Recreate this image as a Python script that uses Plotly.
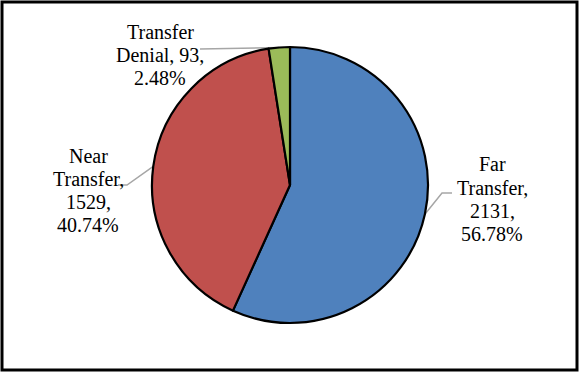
import math
import plotly.graph_objects as go

labels = ["Far Transfer", "Near Transfer", "Transfer Denial"]
values = [2131, 1529, 93]
percents = ["56.78%", "40.74%", "2.48%"]
colors = ["#4F81BD", "#C0504D", "#9BBB59"]

W, H = 579, 372
cx, cy, r = 290, 185, 138  # pie center / radius in pixels

# label lines (Word-style wrapping of "Category, value, percent")
label_lines = [
    ["Far", "Transfer,", "{v},", "{p}"],
    ["Near", "Transfer,", "{v},", "{p}"],
    ["Transfer", "Denial, {v},", "{p}"],
]
label_pos = [(492, 199), (88, 190), (160, 55)]   # block centers (pixels)
line_gap = 23
elbows = [[(442, 193), (452, 193)], [(127, 185), (118, 185)], [(200, 49)]]
FONT = "Liberation Serif"


def px(x):
    return x / W


def py(y):
    return 1 - y / H


fig = go.Figure(go.Pie(
    labels=labels, values=values, sort=False, direction="clockwise",
    rotation=0, textinfo="none", hoverinfo="label+value+percent",
    marker=dict(colors=colors, line=dict(color="black", width=2.2)),
    domain=dict(x=[px(cx - r), px(cx + r)], y=[py(cy + r), py(cy - r)]),
    showlegend=False,
))

total = sum(values)
cum = 0
shapes = []
annotations = []
for i, v in enumerate(values):
    mid = (cum + v / 2) / total * 2 * math.pi
    cum += v
    ex = cx + r * math.sin(mid)
    ey = cy - r * math.cos(mid)
    pts = [(ex, ey)] + elbows[i]
    path = "M " + " L ".join(f"{px(x)},{py(y)}" for x, y in pts)
    shapes.append(dict(type="path", path=path, xref="paper", yref="paper",
                       line=dict(color="#A6A6A6", width=1.5), layer="below"))
    lx, ly = label_pos[i]
    lines = label_lines[i]
    n = len(lines)
    for k, t in enumerate(lines):
        yk = ly + (k - (n - 1) / 2) * line_gap
        annotations.append(dict(
            text=t.format(v=values[i], p=percents[i]),
            x=px(lx), y=py(yk), xref="paper", yref="paper",
            xanchor="center", yanchor="middle", showarrow=False, align="center",
            font=dict(family=FONT, size=20, color="black"),
        ))

shapes.append(dict(type="rect", xref="paper", yref="paper",
                   x0=px(2), x1=px(577), y0=py(370), y1=py(2),
                   line=dict(color="black", width=3)))

fig.update_layout(
    width=W, height=H, margin=dict(l=0, r=0, t=0, b=0),
    paper_bgcolor="white", plot_bgcolor="white",
    font=dict(family=FONT),
    shapes=shapes, annotations=annotations,
)

fig.write_html("out.html", config={"displayModeBar": False})

with open("out.html", encoding="utf-8") as f:
    html = f.read()
html = html.replace("<head>", "<head><style>html,body{margin:0;padding:0;overflow:hidden;}</style>", 1)
with open("out.html", "w", encoding="utf-8") as f:
    f.write(html)
